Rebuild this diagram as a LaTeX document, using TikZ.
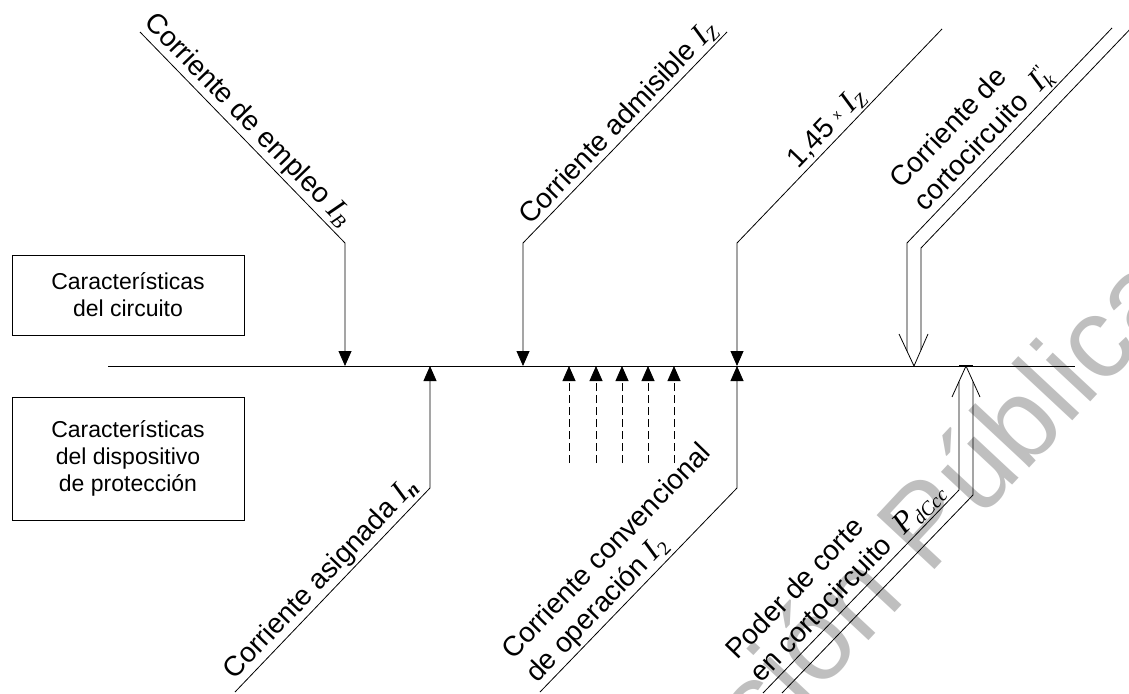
\documentclass[tikz,border=0pt]{standalone}
\usepackage{fontspec}
\setmainfont{Liberation Sans}
\newfontfamily\timesit{Liberation Serif}
\usetikzlibrary{arrows.meta}
\newcommand{\cur}[2]{{\timesit\itshape\fontsize{31}{33}\selectfont #1}\textsubscript{\timesit\itshape #2}}

\begin{document}
\begin{tikzpicture}[x=1pt,y=-1pt,
    wire/.style={line width=0.8pt},
    tipend/.style={wire,-{Triangle[width=13pt,length=15pt]}},
    tipstart/.style={wire,{Triangle[width=13pt,length=15pt]}-},
    lbl/.style={sloped,above,align=left,inner sep=2pt,font=\fontsize{28}{33}\selectfont},
    infobox/.style={draw,wire,minimum width=232pt,align=center,font=\fontsize{23}{27}\selectfont},
    wmark/.style={black!25,rotate=47,inner sep=0pt,anchor=base west,font=\fontsize{115}{115}\selectfont}]
\useasboundingbox (0,0) rectangle (1129,693);

% watermark
\node[wmark] (water) at (645,880) {Versión Pública};

% boxes
\node[infobox,minimum height=80pt] (circ) at (128,295) {Características\\del circuito};
\node[infobox,minimum height=123pt] (disp) at (128,458.5) {Características\\del dispositivo\\de protección};

% axis
\coordinate (L) at (108,366);
\coordinate (R) at (1075,366);
\draw[wire] (L) -- (R);

% circuit side
\coordinate (IB0) at (140,32);
\coordinate (IB1) at (345,243);
\coordinate (IB2) at (345,366);
\draw[tipend] (IB0) -- node[lbl,pos=.47] {Corriente de empleo \cur{I}{B}} (IB1) -- (IB2);

\coordinate (IZ0) at (727,32);
\coordinate (IZ1) at (523,243);
\coordinate (IZ2) at (523,366);
\draw[tipstart] (IZ2) -- (IZ1) -- node[lbl,pos=.52] {Corriente admisible \cur{I}{Z}} (IZ0);

\coordinate (F0) at (942,29);
\coordinate (F1) at (737,243);
\coordinate (F2) at (737,366);
\draw[tipstart] (F2) -- (F1) -- node[lbl,pos=.49] {1,45 \raisebox{.2em}{\fontsize{13}{13}\selectfont x} \cur{I}{Z}} (F0);

% short-circuit current (double line)
\coordinate (Ka0) at (1112,28);
\coordinate (Ka1) at (907,243);
\coordinate (Ka2) at (907,351);
\coordinate (Kb0) at (1135,24);
\coordinate (Kb1) at (921,248);
\coordinate (Kb2) at (921,350);
\coordinate (Kl) at (899,334);
\coordinate (Kt) at (914,366);
\coordinate (Kr) at (928,334);
\draw[wire] (Ka2) -- (Ka1) -- node[lbl,pos=.43] {Corriente de\\cortocircuito\ \ {\timesit\itshape\fontsize{31}{33}\selectfont I}\rlap{\textsuperscript{\timesit ''}}\textsubscript{\timesit\itshape k}} (Ka0);
\draw[wire] (Kb2) -- (Kb1) -- (Kb0);
\draw[wire] (Kl) -- (Kt) -- (Kr);

% device side
\coordinate (In0) at (235,692);
\coordinate (In1) at (430,488);
\coordinate (In2) at (430,366);
\draw[tipend] (In0) -- node[lbl,pos=.5] {Corriente asignada \cur{I}{\bfseries n}} (In1) -- (In2);

\foreach \xx in {569,596,622,648,674}
  \draw[tipend,dash pattern=on 8pt off 4pt] (\xx,463) -- (\xx,366);

\coordinate (Ic0) at (540,692);
\coordinate (Ic1) at (737,488);
\coordinate (Ic2) at (737,366);
\draw[tipend] (Ic0) -- node[lbl,pos=.52] {Corriente convencional\\de operación {\timesit\itshape\fontsize{31}{33}\selectfont I}\textsubscript{\timesit 2}} (Ic1) -- (Ic2);

% breaking capacity (double line)
\coordinate (Pa0) at (763,693);
\coordinate (Pa1) at (959,490);
\coordinate (Pa2) at (959,381.5);
\coordinate (Pb0) at (782,693);
\coordinate (Pb1) at (973,495);
\coordinate (Pb2) at (973,381.5);
\coordinate (Pl) at (952,397);
\coordinate (Pt) at (966,366);
\coordinate (Pr) at (980,397);
\draw[wire] (Pa0) -- node[lbl,pos=.49] {Poder de corte\\en cortocircuito\ \ \cur{P}{dCcc}} (Pa1) -- (Pa2);
\draw[wire] (Pb0) -- (Pb1) -- (Pb2);
\draw[wire] (Pl) -- (Pt) -- (Pr);
\draw[line width=1.6pt] (959,366) -- (973,366);
\end{tikzpicture}
\end{document}
